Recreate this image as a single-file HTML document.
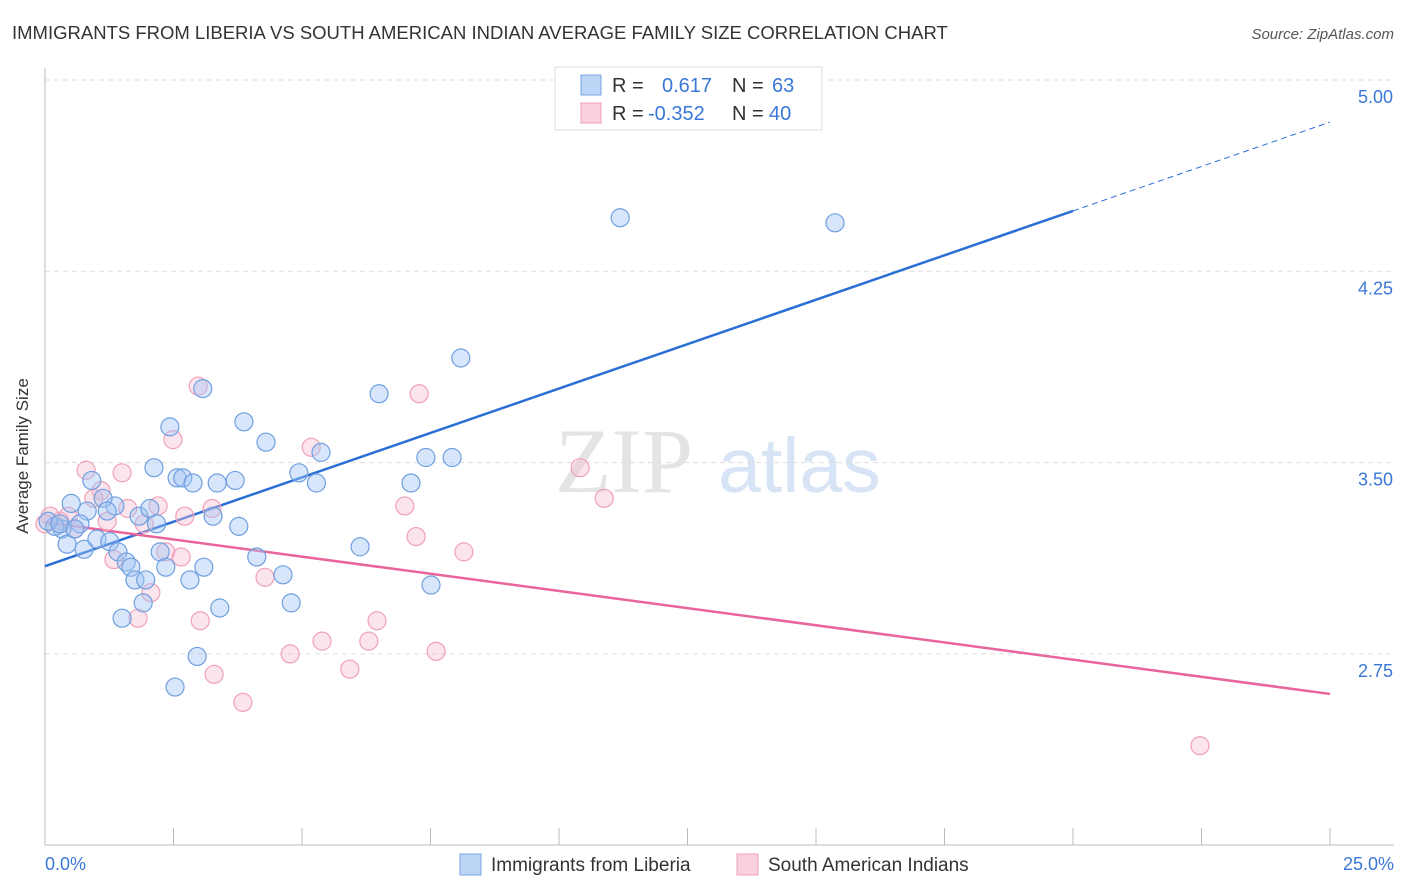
<!DOCTYPE html>
<html><head><meta charset="utf-8"><style>
body{margin:0;background:#fff;font-family:"Liberation Sans",sans-serif;}
svg{display:block}
</style></head><body>
<svg id="chart" width="1406" height="892">
<text x="12" y="39" font-size="18.5" fill="#333">IMMIGRANTS FROM LIBERIA VS SOUTH AMERICAN INDIAN AVERAGE FAMILY SIZE CORRELATION CHART</text>
<text x="1394" y="39" font-size="15" fill="#555" font-style="italic" text-anchor="end">Source: ZipAtlas.com</text>
<text x="28" y="456" font-size="17" fill="#333" text-anchor="middle" transform="rotate(-90 28 456)">Average Family Size</text>
<g>
<text x="555" y="492" font-size="92" fill="#e4e4e4" font-family="Liberation Serif,serif">ZIP</text>
<text x="718" y="492" font-size="77" fill="#d6e4f5">atlas</text>
</g>
<g id="grid"></g><g id="axes"></g><g id="lines"></g><g id="pts"></g>
<g>
<rect x="555" y="67" width="267" height="63" fill="#fff" stroke="#ddd"/>
<rect x="581" y="75" width="20" height="20" fill="#bcd4f5" stroke="#7aa6e6"/>
<rect x="581" y="103" width="20" height="20" fill="#fad0dd" stroke="#f0a0b8"/>
<text x="612" y="92" font-size="20" fill="#333">R = <tspan fill="#3a78d8" x="662">0.617</tspan><tspan fill="#333" x="732">N = </tspan><tspan fill="#3a78d8" x="772">63</tspan></text>
<text x="612" y="120" font-size="20" fill="#333">R = <tspan fill="#3a78d8" x="648">-0.352</tspan><tspan fill="#333" x="732">N = </tspan><tspan fill="#3a78d8" x="769">40</tspan></text>
</g>
<g>
<rect x="460" y="854" width="21" height="21" fill="#bcd4f5" stroke="#7aa6e6"/>
<text x="491" y="871" font-size="19" fill="#333">Immigrants from Liberia</text>
<rect x="737" y="854" width="21" height="21" fill="#fad0dd" stroke="#f0a0b8"/>
<text x="768" y="871" font-size="19" fill="#333">South American Indians</text>
</g>
</svg>
<script>
const yTicks=[5.00,4.25,3.50,2.75];
const xTickLabels=["0.0%","25.0%"];
const blueX=[11.19,15.37,8.09,6.50,3.07,3.87,2.43,4.30,5.37,7.41,7.92,2.12,4.94,2.57,2.68,2.88,3.35,3.70,5.28,7.12,0.91,0.51,0.82,1.36,1.13,1.21,1.83,2.04,2.17,3.27,3.77,0.68,0.33,0.19,0.06,0.43,0.76,1.01,1.26,1.42,1.58,1.67,2.24,2.35,3.09,4.12,6.13,1.75,1.96,2.82,4.63,7.51,1.91,1.50,3.40,4.79,2.96,2.53,0.29,0.58];
const blueY=[4.46,4.44,3.91,3.77,3.79,3.66,3.64,3.58,3.54,3.52,3.52,3.48,3.46,3.44,3.44,3.42,3.42,3.43,3.42,3.42,3.43,3.34,3.31,3.33,3.36,3.31,3.29,3.32,3.26,3.29,3.25,3.26,3.24,3.25,3.27,3.18,3.16,3.20,3.19,3.15,3.11,3.09,3.15,3.09,3.09,3.13,3.17,3.04,3.04,3.04,3.06,3.02,2.95,2.89,2.93,2.95,2.74,2.62,3.26,3.24];
const pinkX=[22.47,10.41,10.88,7.28,2.98,2.49,5.18,0.80,1.50,1.09,0.95,1.61,2.20,3.25,2.72,7.00,1.21,1.93,0.29,0.10,0.45,0.58,7.22,8.15,2.35,2.65,1.34,4.28,2.06,1.81,3.02,6.46,5.39,6.30,4.77,7.61,5.93,3.29,3.85,0.0];
const pinkY=[2.39,3.48,3.36,3.77,3.80,3.59,3.56,3.47,3.46,3.39,3.36,3.32,3.33,3.32,3.29,3.33,3.27,3.26,3.27,3.29,3.29,3.24,3.21,3.15,3.15,3.13,3.12,3.05,2.99,2.89,2.88,2.88,2.80,2.80,2.75,2.76,2.69,2.67,2.56,3.26];
const blueTrend=[3.094,4.835];
const pinkTrend=[3.266,2.593];
const blueSolidEnd=20;

const X=v=>45+v/25*1285;
const Y=v=>80+(5-v)/0.75*191.3;
const NS="http://www.w3.org/2000/svg";
function mk(tag,attrs,parent){const e=document.createElementNS(NS,tag);for(const k in attrs)e.setAttribute(k,attrs[k]);document.getElementById(parent).appendChild(e);return e;}

yTicks.forEach(t=>{
 const l=mk('line',{x1:45,x2:1394,y1:Y(t),y2:Y(t),stroke:'#ddd','stroke-dasharray':'5,4'},'grid');
 
 
 const tx=mk('text',{x:1393,y:Y(t)+23,'font-size':18,fill:'#3a78d8','text-anchor':'end'},'grid');
 tx.textContent=t.toFixed(2);
 
 
});
const ax=mk('line',{x1:45,x2:45,y1:68,y2:845,stroke:'#bbb'},'axes');


const bx=mk('line',{x1:45,x2:1394,y1:845,y2:845,stroke:'#bbb'},'axes');


for(let i=0;i<=10;i++){
 const tk=mk('line',{x1:X(i*2.5),x2:X(i*2.5),y1:828,y2:845,stroke:'#bbb'},'axes');
 
 
}
[[0,'start',45],[25,'end',1394]].forEach((d,i)=>{
 const t=mk('text',{x:d[2],y:870,'font-size':18,fill:'#3a78d8','text-anchor':d[1]},'axes');
 t.textContent=xTickLabels[i];
 
 
});

function pts(xs,ys,fill,stroke,name){
 xs.forEach((x,i)=>{
  const c=mk('circle',{cx:X(x),cy:Y(ys[i]),r:9,fill:fill,stroke:stroke,'stroke-width':1.2},'pts');
  
  
 });
}
pts(pinkX,pinkY,'rgba(248,188,208,0.4)','#f0a0b8','point-south-american-indian');
pts(blueX,blueY,'rgba(160,196,242,0.42)','#6f9fe0','point-liberia');

const bs=(blueTrend[1]-blueTrend[0])/25;
const l1=mk('line',{x1:X(0),y1:Y(blueTrend[0]),x2:X(blueSolidEnd),y2:Y(blueTrend[0]+bs*blueSolidEnd),stroke:'#2a6fd6','stroke-width':2.5},'lines');


const l2=mk('line',{x1:X(blueSolidEnd),y1:Y(blueTrend[0]+bs*blueSolidEnd),x2:X(25),y2:Y(blueTrend[1]),stroke:'#2a6fd6','stroke-width':1,'stroke-dasharray':'6,4'},'lines');


const l3=mk('line',{x1:X(0),y1:Y(pinkTrend[0]),x2:X(25),y2:Y(pinkTrend[1]),stroke:'#e8649a','stroke-width':2.5},'lines');


</script>
</body></html>
